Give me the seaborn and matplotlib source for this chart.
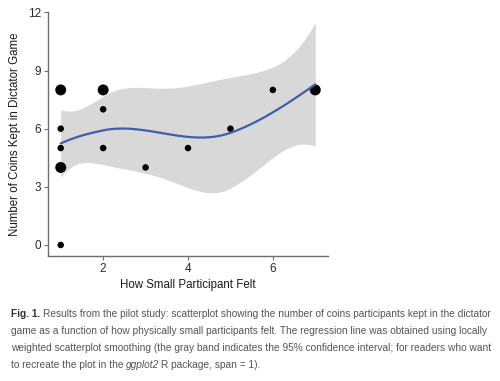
import numpy as np
import pandas as pd
import matplotlib
matplotlib.use("Agg")
import matplotlib.pyplot as plt
import seaborn as sns

# ---- data ----
felt = [1, 1, 1, 1, 1, 2, 2, 2, 3, 4, 5, 6, 7]
coins = [0, 4, 5, 6, 8, 5, 7, 8, 4, 5, 6, 8, 8]
count = [1, 2, 1, 1, 2, 1, 1, 2, 1, 1, 1, 1, 2]
x_ticks = [2, 4, 6]
y_ticks = [0, 3, 6, 9, 12]
x_label = "How Small Participant Felt"
y_label = "Number of Coins Kept in Dictator Game"
caption_lines = [
    "Results from the pilot study: scatterplot showing the number of coins participants kept in the dictator",
    "game as a function of how physically small participants felt. The regression line was obtained using locally",
    "weighted scatterplot smoothing (the gray band indicates the 95% confidence interval; for readers who want",
]
span = 1.0
cell = 0.2

pts = pd.DataFrame({"felt": felt, "coins": coins, "count": count})
obs = pts.loc[pts.index.repeat(pts["count"])].sort_values("felt").reset_index(drop=True)
xe = obs["felt"].to_numpy(float)
ye = obs["coins"].to_numpy(float)
n = len(xe)


# ---- loess (degree 2, tricube), with R-style kd-tree vertex interpolation ----
def local_rows(x0):
    q = int(np.floor(n * span))
    d = np.abs(xe - x0)
    h = np.sort(d)[q - 1] * max(1.0, span)
    u = d / h
    w = np.where(u < 1, (1 - u ** 3) ** 3, 0.0)
    X = np.vander(xe - x0, 3, increasing=True)
    XtW = X.T * w
    B = np.linalg.solve(XtW @ X, XtW)
    return B[0], B[1]  # value row, slope row


def kd_vertices(x):
    xs = np.sort(x)
    span_x = xs[-1] - xs[0]
    mu = 0.005 * span_x
    verts = {xs[0] - mu, xs[-1] + mu}
    fc = int(np.floor(n * span * cell))
    stack = [(0, len(xs) - 1, xs[0] - mu, xs[-1] + mu)]
    while stack:
        l, u, lo_v, hi_v = stack.pop()
        if (u - l) + 1 <= fc:
            continue
        m = (l + u) // 2
        offset = 0
        while l <= m + offset < u:
            if xs[m + offset] == xs[m + offset + 1]:
                offset = -offset
                if offset >= 0:
                    offset += 1
            else:
                m = m + offset
                break
        split = xs[m]
        if split == lo_v or split == hi_v:
            continue
        verts.add(split)
        stack.append((l, m, lo_v, split))
        stack.append((m + 1, u, split, hi_v))
    return np.array(sorted(verts))


V = kd_vertices(xe)
VL = [local_rows(v) for v in V]


def operator(xq):
    L = np.zeros((len(xq), n))
    for k, x0 in enumerate(xq):
        j = int(np.clip(np.searchsorted(V, x0) - 1, 0, len(V) - 2))
        hv = V[j + 1] - V[j]
        t = (x0 - V[j]) / hv
        phi0 = (1 - t) ** 2 * (1 + 2 * t)
        phi1 = t ** 2 * (3 - 2 * t)
        psi0 = t * (1 - t) ** 2
        psi1 = -t ** 2 * (1 - t)
        L[k] = (phi0 * VL[j][0] + phi1 * VL[j + 1][0]
                + hv * (psi0 * VL[j][1] + psi1 * VL[j + 1][1]))
    return L


def t_quantile(p, df):
    from math import lgamma, pi
    grid = np.linspace(-60, 60, 400001)
    c = np.exp(lgamma((df + 1) / 2) - lgamma(df / 2)) / np.sqrt(df * pi)
    dens = c * (1 + grid ** 2 / df) ** (-(df + 1) / 2)
    cdf = np.cumsum(dens)
    cdf /= cdf[-1]
    return float(np.interp(p, cdf, grid))


Lfit = operator(xe)
resid = ye - Lfit @ ye
M = np.eye(n) - Lfit
MM = M.T @ M
one_delta = np.trace(MM)
two_delta = np.trace(MM @ MM)
sigma = np.sqrt(np.sum(resid ** 2) / one_delta)
rdf = one_delta ** 2 / two_delta

xg = np.linspace(min(felt), max(felt), 80)
Lg = operator(xg)
fit = Lg @ ye
se = sigma * np.sqrt(np.sum(Lg ** 2, axis=1))
tq = t_quantile(0.975, rdf)
smooth = pd.DataFrame({"felt": xg, "fit": fit, "lo": fit - tq * se, "hi": fit + tq * se})

# ---- figure ----
sns.set_style("white")
plt.rcParams["font.family"] = ["Liberation Sans Narrow", "Liberation Sans", "DejaVu Sans"]

fig = plt.figure(figsize=(5.0, 3.81), dpi=100)
ax = fig.add_axes([0.096, 0.328, 0.56, 0.6405])

ax.fill_between(smooth["felt"], smooth["lo"], smooth["hi"], color="#d8d8d8", lw=0, zorder=1)
sns.scatterplot(data=pts, x="felt", y="coins", size="count", sizes=(22, 62),
                color="black", edgecolor="none", legend=False, ax=ax, zorder=3)
sns.lineplot(data=smooth, x="felt", y="fit", color="#3e5fae", lw=1.6, ax=ax, zorder=4)

ax.set_xlim(0.7, 7.3)
ax.set_ylim(-0.57, 12.02)
ax.set_xticks(x_ticks)
ax.set_yticks(y_ticks)
for s in ["top", "right"]:
    ax.spines[s].set_visible(False)
for s in ["left", "bottom"]:
    ax.spines[s].set_color("#6e6e6e")
    ax.spines[s].set_linewidth(1.0)
ax.tick_params(axis="both", length=3, width=0.8, color="#6e6e6e", labelsize=8.5,
               labelcolor="#2a2a2a", pad=2, left=True, bottom=True)
ax.set_xlabel(x_label, fontsize=8.3, color="#1a1a1a", labelpad=3)
ax.set_ylabel(y_label, fontsize=8.3, color="#1a1a1a", labelpad=5)

# ---- caption ----
cap_font = ["Liberation Sans", "DejaVu Sans"]
fig.canvas.draw()
r = fig.canvas.get_renderer()
fs = 7.33
left_px = 11
base_y = [317, 334, 351, 368]


def place(x_px, y_px, s, **kw):
    t = fig.text(x_px / 500, 1 - y_px / 381, s, fontsize=fs, family=cap_font,
                 va="baseline", ha="left", **kw)
    bb = t.get_window_extent(renderer=r)
    return x_px + bb.width


x = place(left_px, base_y[0], "Fig. 1.", color="#333333", weight="bold")
place(x + 3, base_y[0], caption_lines[0], color="#555555")
place(left_px, base_y[1], caption_lines[1], color="#555555")
place(left_px, base_y[2], caption_lines[2], color="#555555")
x = place(left_px, base_y[3], "to recreate the plot in the ", color="#555555")
x = place(x, base_y[3], "ggplot2", color="#555555", style="italic")
place(x - 2, base_y[3], " R package, span = 1).", color="#555555")

fig.savefig("out.png", dpi=100)
